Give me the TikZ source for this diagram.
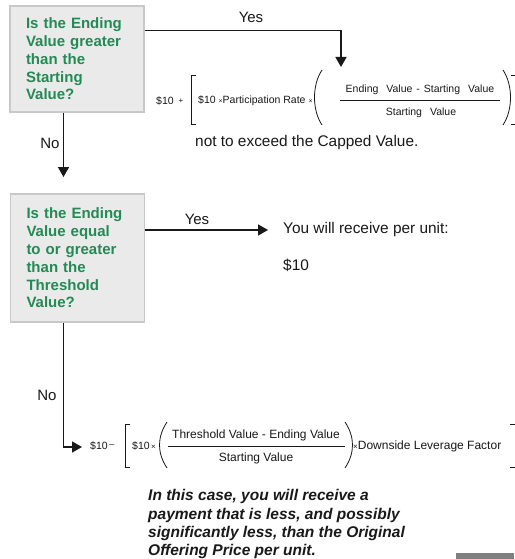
\documentclass[tikz,border=0pt]{standalone}
\usepackage{fontspec}
\setmainfont{Liberation Sans}
\usetikzlibrary{arrows.meta}
\definecolor{qgreen}{RGB}{35,138,85}
\definecolor{boxfill}{RGB}{234,234,234}
\definecolor{boxline}{RGB}{200,200,200}
\definecolor{ink}{RGB}{25,25,25}
\begin{document}
\begin{tikzpicture}[x=1pt,y=-1pt,
 qbox/.style={draw=boxline, fill=boxfill, line width=1.2pt, minimum width=134pt, text width=102pt, inner xsep=16pt, align=left, font=\fontsize{15}{17.8}\selectfont\bfseries, text=qgreen},
 arr/.style={draw=ink, line width=1.6pt, -{Triangle[length=10pt,width=11pt]}},
 lbl/.style={font=\fontsize{15}{17}\selectfont, text=ink, inner sep=0pt},
 body/.style={font=\fontsize{15.4}{18}\selectfont, text=ink, inner sep=0pt},
 fa/.style={font=\fontsize{10.5}{12}\selectfont, text=ink, inner sep=0pt},
 fb/.style={font=\fontsize{12}{14}\selectfont, text=ink, inner sep=0pt},
 delim/.style={draw=ink, line width=0.8pt},
 fbar/.style={draw=ink, line width=0.6pt},
]
\useasboundingbox (0,0) rectangle (514,559);
\fill[white] (0,0) rectangle (514,559);

% question boxes
\node[qbox, minimum height=106pt] (b1) at (77,59) {Is the Ending\\Value greater\\than the\\Starting\\Value?};
\node[qbox, minimum height=128pt] (b2) at (77.5,258) {Is the Ending\\Value equal\\to or greater\\than the\\Threshold\\Value?};

% Yes branch 1
\coordinate (f1tip) at (341,67);
\draw[arr] ([yshift=-25pt]b1.north east) -| (f1tip);
\node[lbl] (yes1) at (251,17) {Yes};

% formula 1
\node[fa] (f1a) at (165,101) {\$10};
\node[fa, font=\fontsize{8}{10}\selectfont] (f1p) at (181,101) {+};
\draw[delim] (196,75) -- (191,75) -- (191,124) -- (196,124);
\node[fa, anchor=west] (f1b) at (198,101) {\$10 {\fontsize{7}{8}\selectfont×}Participation Rate {\fontsize{7}{8}\selectfont×}};
\draw[delim] (322,70) .. controls (312,85) and (312,110) .. (322,125);
\node[fa] (f1n) at (420,90) {Ending\hspace{8pt}Value\hspace{4pt}-\hspace{4pt}Starting\hspace{8pt}Value};
\draw[fbar] (340,100.5) -- (500,100.5);
\node[fa] (f1d) at (421,113) {Starting\hspace{8pt}Value};
\draw[delim] (503,70) .. controls (513,85) and (513,110) .. (503,125);
\draw[delim] (511,75) -- (516,75) -- (516,124) -- (511,124);
\node[body, anchor=west] (cap) at (195,143) {not to exceed the Capped Value.};

% No branch 1
\coordinate (n1tip) at (63.5,177);
\draw[arr] (b1.south -| n1tip) -- (n1tip);
\node[lbl] (no1) at (50,143) {No};

% Yes branch 2
\node[body, anchor=west] (recv) at (283,230) {You will receive per unit:};
\node[body, anchor=west] (ten) at (283,265) {\$10};
\draw[arr] (b2.east |- recv.west) -- ([xshift=-15pt]recv.west);
\node[lbl] (yes2) at (197,219) {Yes};

% No branch 2
\coordinate (f2tip) at (82,447);
\draw[arr] (b2.south -| n1tip) |- (f2tip);
\node[lbl] (no2) at (47,395) {No};

% formula 2
\node[fb, font=\fontsize{10.5}{12}\selectfont] (f2a) at (99,446) {\$10};
\node[fb, font=\fontsize{9}{10}\selectfont] (f2m) at (112,446) {–};
\draw[delim] (130,424) -- (125,424) -- (125,467) -- (130,467);
\node[fb, anchor=west, font=\fontsize{10.5}{12}\selectfont] (f2b) at (132,446) {\$10{\fontsize{8}{9}\selectfont\,×}};
\draw[delim] (167,422) .. controls (157,437) and (157,453) .. (167,468);
\node[fb] (f2n) at (256,435) {Threshold Value - Ending Value};
\draw[fbar] (168,446.5) -- (345,446.5);
\node[fb] (f2d) at (256,458) {Starting Value};
\draw[delim] (345,422) .. controls (355,437) and (355,453) .. (345,468);
\node[fb, anchor=west] (f2c) at (353,446) {{\fontsize{8}{9}\selectfont×}Downside Leverage Factor};
\draw[delim] (510,424) -- (515,424) -- (515,467) -- (510,467);

% note
\node[body, anchor=north west, font=\fontsize{15.5}{18.2}\selectfont\bfseries\itshape, align=left] (note) at (148,489.5) {In this case, you will receive a\\payment that is less, and possibly\\significantly less, than the Original\\Offering Price per unit.};

\fill[black!50] (456,553) rectangle (514,559);
\end{tikzpicture}
\end{document}
